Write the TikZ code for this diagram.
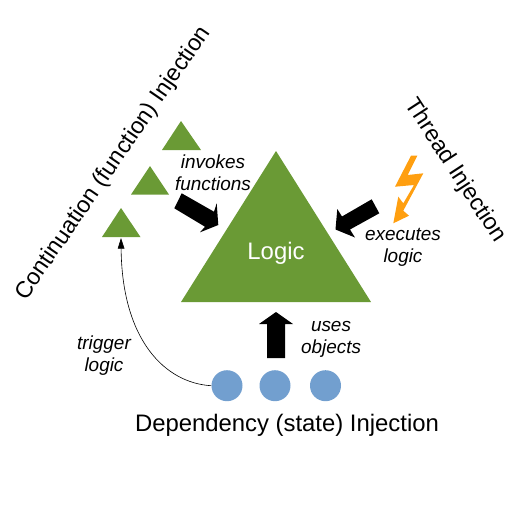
\documentclass[tikz,border=0pt]{standalone}
\usepackage{fontspec}
\setmainfont{Liberation Sans}
\usetikzlibrary{arrows.meta}
\definecolor{lgreen}{HTML}{6A9A35}
\definecolor{lblue}{HTML}{729FCF}
\definecolor{lorange}{HTML}{FF9F10}
\tikzset{
  px/.style={x=0.75pt,y=-0.75pt},
  tri/.style={fill=lgreen,draw=none},
  ball/.style={circle,fill=lblue,draw=none,minimum size=23.25pt,inner sep=0pt},
  big/.style={font=\fontsize{17.9}{20}\selectfont,inner sep=0pt},
  slant/.style={font=\fontsize{17.4}{20}\selectfont,inner sep=0pt},
  note/.style={font=\fontsize{14.2}{16.5}\selectfont\itshape,align=center,inner sep=0pt},
  blk/.style={fill=black,draw=none}
}
\begin{document}
\begin{tikzpicture}[px]
\useasboundingbox (0,0) rectangle (529,529);
\fill[tri] (276,151) -- (371,302) -- (181,302) -- cycle;
\node[big,text=white] (logic) at (276,253.5) {Logic};
\fill[tri] (181,121) -- (201,150) -- (162,150) -- cycle;
\fill[tri] (150,166) -- (169,194.5) -- (131,194.5) -- cycle;
\fill[tri] (121,208) -- (140.5,237) -- (102,237) -- cycle;
\coordinate (t3) at (121,238);
\node[ball] (b1) at (227,385.7) {};
\node[ball] (b2) at (275,385.7) {};
\node[ball] (b3) at (325.5,385.7) {};
\fill[blk] (276,312) -- (293,324) -- (285,324) -- (285,358) -- (267,358) -- (267,324) -- (259,324) -- cycle;
\fill[blk] (181.7,193.3) -- (214,211.7) -- (216.7,203.3) -- (218.3,225) -- (200,232.3) -- (205,226.7) -- (174.3,208.3) -- cycle;
\fill[blk] (371.7,199.3) -- (379.3,213.3) -- (350,229.5) -- (355,237.5) -- (335.5,229.5) -- (337.3,209) -- (342,216.5) -- cycle;
\fill[lorange] (411,155.7) -- (417.3,155.7) -- (407.7,175) -- (423.3,173.3) -- (403.3,210.7) -- (409,215.7) -- (393.3,223.3) -- (398.3,196.7) -- (403.3,203.3) -- (414,185) -- (395,186.7) -- cycle;
\draw[black,line width=0.45pt,-{Triangle[length=8pt,width=5pt]}] (b1.west) .. controls (165,383) and (122,340) .. (t3);
\node[slant] (cont) at (113.5,163.5) [rotate=55.5] {Continuation (function) Injection};
\node[slant] (thread) at (455,170.5) [rotate=-57] {Thread Injection};
\node[big] (dep) at (287,425) {Dependency (state) Injection};
\node[note] (inv) at (213,173) {invokes\\functions};
\node[note] (exe) at (403,247.5) {executes\\logic};
\node[note] (use) at (331,339) {uses\\objects};
\node[note] (trg) at (104,356) {trigger\\logic};
\end{tikzpicture}
\end{document}
